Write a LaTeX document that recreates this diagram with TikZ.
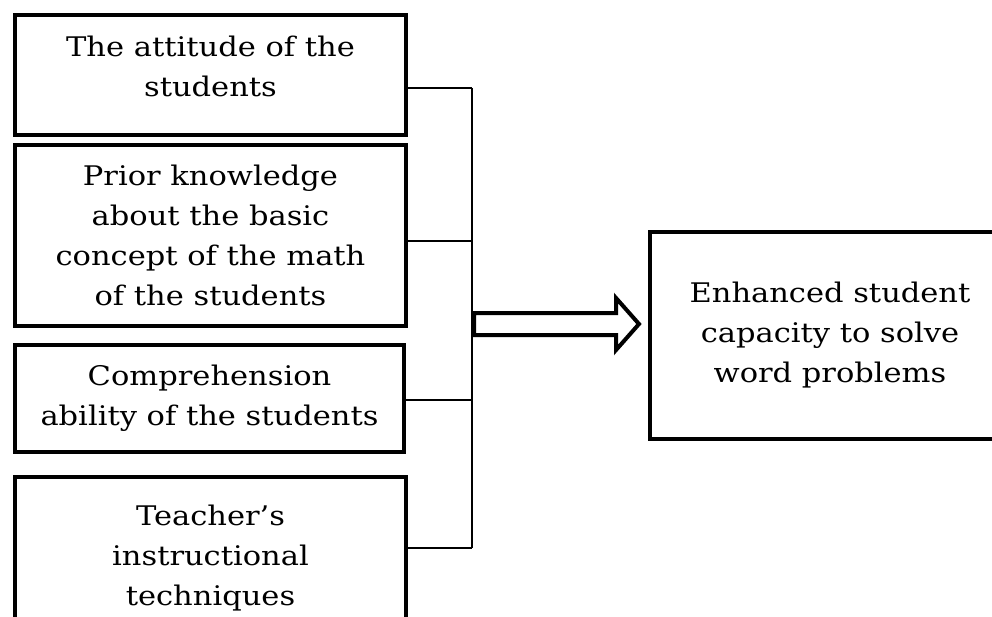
\documentclass[tikz,border=0pt]{standalone}
\usepackage{fontspec}
\setmainfont[FakeStretch=1.13]{DejaVu Serif}
\usetikzlibrary{shapes.arrows}
\begin{document}
\begin{tikzpicture}[x=1pt,y=-1pt,
  box/.style={draw, line width=4.5pt, align=center, inner sep=0pt,
    font=\fontsize{27}{40}\selectfont},
  conn/.style={line width=1.3pt},
  bigarrow/.style={single arrow, draw, line width=4pt, inner xsep=0pt,
    inner ysep=9pt, minimum width=48pt, minimum height=165pt,
    single arrow head extend=15pt, single arrow tip angle=97, anchor=tail}]
\useasboundingbox (0,0) rectangle (992,617);
\clip (0,0) rectangle (992,617);
\node[box, minimum width=391pt, minimum height=120pt] (b1) at (210.5,75)
  {The attitude of the\\students\\[-22pt]\mbox{}};
\node[box, minimum width=391pt, minimum height=181pt] (b2) at (210.5,235.5)
  {Prior knowledge\\about the basic\\concept of the math\\of the students};
\node[box, minimum width=389pt, minimum height=107pt] (b3) at (209.5,398.5)
  {Comprehension\\ability of the students};
\node[box, minimum width=391pt, minimum height=163pt] (b4) at (210.5,558.5)
  {Teacher’s\\instructional\\techniques};
\node[box, minimum width=360pt, minimum height=207pt] (rb) at (830,335.5)
  {Enhanced student\\capacity to solve\\word problems};
\coordinate (j1) at (472,88);
\coordinate (j2) at (472,241);
\coordinate (j3) at (472,400);
\coordinate (j4) at (472,548);
\coordinate (ja) at (472,324);
\draw[conn] (b1.east |- j1) -- (j1);
\draw[conn] (b2.east |- j2) -- (j2);
\draw[conn] (b3.east |- j3) -- (j3);
\draw[conn] (b4.east |- j4) -- (j4);
\draw[conn] (j1) -- (j4);
\node[bigarrow] (arr) at (ja) {};
\end{tikzpicture}
\end{document}
